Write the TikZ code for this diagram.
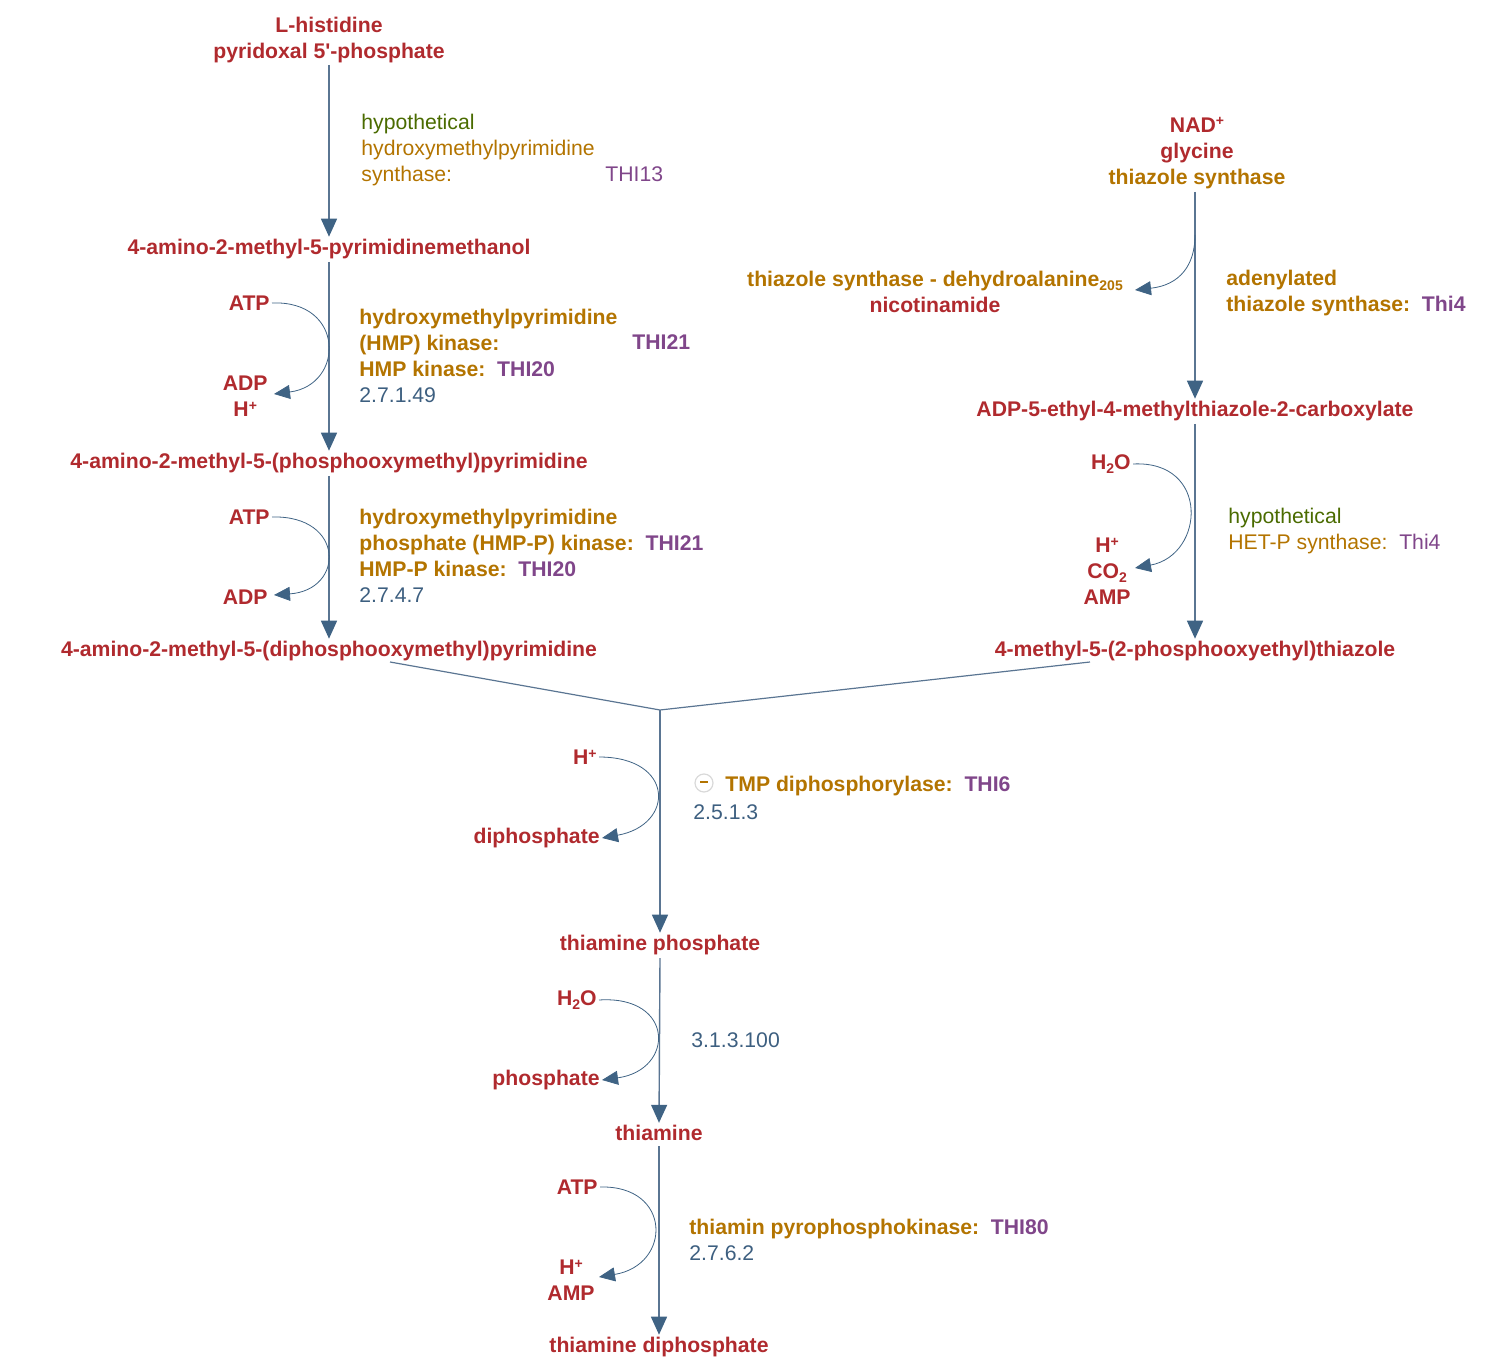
\documentclass[tikz,border=0pt]{standalone}
\usepackage{fontspec}
\setmainfont{Liberation Sans}
\usetikzlibrary{arrows.meta,positioning}
\definecolor{MetRed}{HTML}{B02A2E}
\definecolor{EnzOrange}{HTML}{B37400}
\definecolor{GenePurple}{HTML}{80468A}
\definecolor{ECBlue}{HTML}{3D5F80}
\definecolor{HypGreen}{HTML}{4A6B00}
\definecolor{ArrowBlue}{HTML}{5A7592}
\definecolor{TipBlue}{HTML}{3F6384}
\newcommand{\gene}[1]{\textcolor{GenePurple}{#1}}
\newcommand{\ec}[1]{\textcolor{ECBlue}{\mdseries #1}}
\newcommand{\hyp}[1]{\textcolor{HypGreen}{\mdseries #1}}
\newcommand{\chemsub}[1]{\raisebox{-0.35ex}{\scriptsize #1}}
\newcommand{\chemsup}[1]{\raisebox{0.55ex}{\scriptsize #1}}

\begin{document}
\begin{tikzpicture}[x=0.5pt,y=-0.5pt,
    met/.style={font=\fontsize{10.6}{13}\selectfont\bfseries,text=MetRed,
                align=center,inner sep=1pt},
    enz/.style={font=\fontsize{10.6}{13}\selectfont\bfseries,text=EnzOrange,
                align=left,anchor=west,inner sep=0pt},
    main/.style={draw=ArrowBlue,line width=0.7pt,
                 -{Triangle[length=9pt,width=8pt,color=TipBlue]}},
    side/.style={draw=TipBlue,line width=0.4pt,
                 -{Triangle[length=8pt,width=7pt,color=TipBlue]}}]
  \useasboundingbox (0,0) rectangle (1498,1368);

  % pyrimidine branch
  \node[met] (lhis) at (329,40) {L-histidine\\pyridoxal 5\textquotesingle-phosphate};
  \node[met] (hmp) at (329,249) {4-amino-2-methyl-5-pyrimidinemethanol};
  \node[met] (hmpp) at (329,463) {4-amino-2-methyl-5-(phosphooxymethyl)pyrimidine};
  \node[met] (hmppp) at (329,651) {4-amino-2-methyl-5-(diphosphooxymethyl)pyrimidine};

  \draw[main] (329,65) -- (hmp.north);
  \draw[main] (329,262) -- (hmpp.north);
  \draw[main] (329,476) -- (hmppp.north);

  \node[enz,font=\fontsize{10.6}{13}\selectfont] (e1) at (361,150)
    {\hyp{hypothetical}\\hydroxymethylpyrimidine\\synthase:};
  \node[enz,font=\fontsize{10.6}{13}\selectfont,text=GenePurple] (g1) at (605,174) {THI13};

  \node[met,anchor=east] (atp1) at (272,303) {ATP};
  \node[met,anchor=east] (adp1) at (270,396) {ADP\\H\chemsup{+}};
  \draw[side] (atp1.east) .. controls (345,300) and (345,385) .. (274,394);
  \node[enz] (e2) at (359,356)
    {hydroxymethylpyrimidine\\(HMP) kinase:\\HMP kinase:\ \ \gene{THI20}\\\ec{2.7.1.49}};
  \node[enz,text=GenePurple] (g2) at (632,342) {THI21};

  \node[met,anchor=east] (atp2) at (272,517) {ATP};
  \node[met,anchor=east] (adp2) at (270,597) {ADP};
  \draw[side] (atp2.east) .. controls (345,515) and (345,590) .. (274,595);
  \node[enz] (e3) at (359,556)
    {hydroxymethylpyrimidine\\phosphate (HMP-P) kinase:\ \ \gene{THI21}\\HMP-P kinase:\ \ \gene{THI20}\\\ec{2.7.4.7}};

  % thiazole branch
  \node[met] (nad) at (1197,153) {NAD\chemsup{+}\\glycine\\\textcolor{EnzOrange}{thiazole synthase}};
  \node[met] (dha) at (935,292) {\textcolor{EnzOrange}{thiazole synthase - dehydroalanine\chemsub{205}}\\nicotinamide};
  \node[met] (adp5) at (1195,411) {ADP-5-ethyl-4-methylthiazole-2-carboxylate};
  \node[met] (mpt) at (1195,651) {4-methyl-5-(2-phosphooxyethyl)thiazole};

  \draw[main] (1195,192) -- (adp5.north);
  \draw[side] (1195,235) .. controls (1195,265) and (1180,285) .. (1135,290);
  \node[enz] (e4) at (1226,293) {adenylated\\thiazole synthase:\ \ \gene{Thi4}};

  \draw[main] (1195,424) -- (mpt.north);
  \node[met,anchor=east] (h2o1) at (1133,464) {H\chemsub{2}O};
  \node[met,anchor=east] (co2) at (1133,571) {H\chemsup{+}\\CO\chemsub{2}\\AMP};
  \draw[side] (h2o1.east) .. controls (1210,460) and (1205,555) .. (1135,568);
  \node[enz,font=\fontsize{10.6}{13}\selectfont] (e5) at (1228,531)
    {\hyp{hypothetical}\\HET-P synthase:\ \ \gene{Thi4}};

  % condensation and thiamine
  \coordinate (join) at (660,710);
  \node[met] (tp) at (660,945) {thiamine phosphate};
  \node[met] (thi) at (659,1133) {thiamine};
  \node[met] (tdp) at (659,1347) {thiamine diphosphate};

  \draw[draw=ArrowBlue,line width=0.6pt] (390,662) -- (join) -- (1090,662);
  \draw[main] (join) -- (tp.north);

  \node[met,anchor=east] (hp1) at (599,757) {H\chemsup{+}};
  \node[met,anchor=east] (pp) at (602,838) {diphosphate};
  \draw[side] (hp1.east) .. controls (675,757) and (675,825) .. (pp.east);
  \node[circle,draw=black!15,line width=0.6pt,minimum size=9pt,inner sep=0pt] (inh) at (704,783) {};
  \draw[EnzOrange,line width=0.6pt] (700,782) -- (708,782);
  \node[enz] (e6) at (725,786) {TMP diphosphorylase:\ \ \gene{THI6}};
  \node[enz] (ec6) at (693,812) {\ec{2.5.1.3}};

  \draw[main] (660,958) -- (thi.north);
  \node[met,anchor=east] (h2o2) at (599,1000) {H\chemsub{2}O};
  \node[met,anchor=east] (pi) at (602,1080) {phosphate};
  \draw[side] (h2o2.east) .. controls (675,995) and (675,1070) .. (pi.east);
  \node[enz] (ec7) at (691,1040) {\ec{3.1.3.100}};

  \draw[main] (659,1146) -- (tdp.north);
  \node[met,anchor=east] (atp3) at (600,1187) {ATP};
  \node[met,anchor=east] (amp) at (597,1280) {H\chemsup{+}\\AMP};
  \draw[side] (atp3.east) .. controls (672,1185) and (672,1265) .. (599,1277);
  \node[enz] (e8) at (689,1240) {thiamin pyrophosphokinase:\ \ \gene{THI80}\\\ec{2.7.6.2}};
\end{tikzpicture}
\end{document}
